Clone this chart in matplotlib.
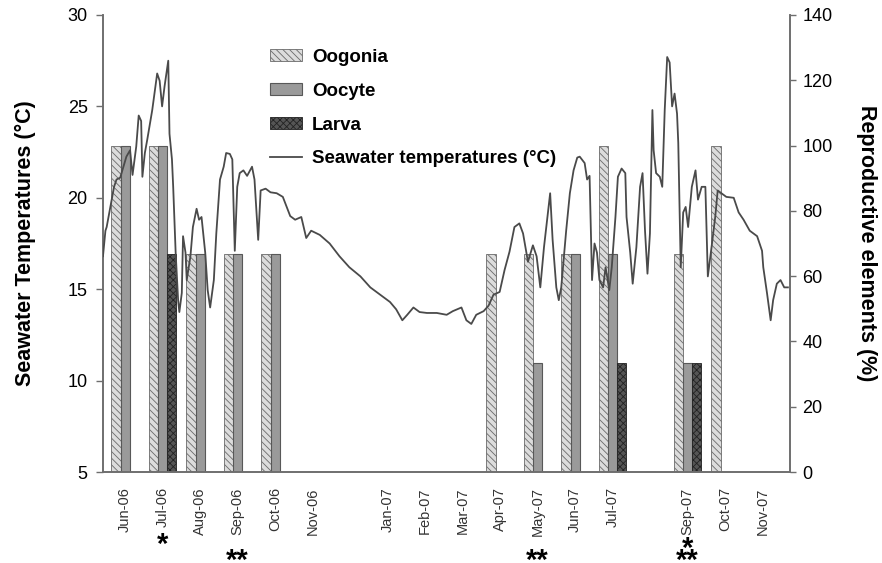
import numpy as np
import matplotlib.pyplot as plt
from matplotlib.patches import Patch
from matplotlib.lines import Line2D
from matplotlib.transforms import blended_transform_factory

plt.rcParams['font.family'] = ['Liberation Sans', 'DejaVu Sans']
plt.rcParams['hatch.linewidth'] = 0.6


""" data """

# monthly slots, '' = month without sampling label
months = ["Jun-06", "Jul-06", "Aug-06", "Sep-06", "Oct-06", "Nov-06", "",
          "Jan-07", "Feb-07", "Mar-07", "Apr-07", "May-07", "Jun-07",
          "Jul-07", "", "Sep-07", "Oct-07", "Nov-07"]

oogonia = [100, 100, 66.7, 66.7, 66.7, 0, 0, 0, 0, 0,
           66.7, 66.7, 66.7, 100, 0, 66.7, 100, 0]
oocyte = [100, 100, 66.7, 66.7, 66.7, 0, 0, 0, 0, 0,
          0, 33.3, 66.7, 66.7, 0, 33.3, 0, 0]
larva = [0, 66.7, 0, 0, 0, 0, 0, 0, 0, 0,
         0, 0, 0, 33.3, 0, 33.3, 0, 0]

# asterisks under the month labels (single / double)
stars_single = ["Jul-06", "Sep-07"]
stars_double = ["Sep-06", "May-07", "Sep-07"]

# seawater temperature record: day since 2006-05-28, temperature (deg C)
temp_day = [0, 2, 3, 6, 9, 11, 14, 19, 22, 24, 27, 29, 31, 32, 34, 36, 40,
            44, 46, 48, 50, 53, 54, 56, 57, 59, 61, 62, 64, 65, 67, 68, 71,
            73, 76, 78, 80, 83, 85, 87, 90, 92, 95, 98, 100, 103, 105, 107,
            109, 111, 114, 117, 121, 123, 126, 128, 132, 136, 141, 146, 152,
            156, 161, 165, 169, 176, 184, 192, 200, 209, 217, 225, 233, 238,
            243, 247, 252, 257, 263, 271, 279, 284, 291, 295, 299, 303, 309,
            313, 317, 322, 326, 330, 334, 338, 341, 345, 349, 352, 355, 358,
            363, 365, 368, 370, 372, 376, 379, 382, 385, 387, 391, 393, 395,
            397, 399, 401, 403, 406, 408, 411, 413, 416, 418, 421, 424, 425,
            428, 430, 433, 436, 438, 440, 442, 444, 446, 447, 449, 452, 454,
            456, 458, 460, 462, 464, 466, 467, 469, 471, 473, 475, 478, 481,
            483, 486, 489, 491, 494, 497, 499, 502, 506, 512, 516, 520, 525,
            531, 535, 536, 539, 542, 544, 547, 550, 553, 556]
temp_val = [16.8, 18.2, 18.4, 19.5, 20.6, 21.0, 21.1, 22.25, 22.6, 21.25,
            22.8, 24.5, 24.2, 21.15, 22.45, 23.2, 24.8, 26.8, 26.4, 25.0,
            26.1, 27.5, 23.5, 22.1, 20.6, 17.0, 14.4, 13.75, 14.8, 17.9, 17.0,
            15.5, 16.8, 18.4, 19.4, 18.8, 18.95, 17.0, 14.95, 14.0, 15.5,
            18.05, 21.0, 21.7, 22.45, 22.4, 22.1, 17.1, 20.6, 21.35, 21.5,
            21.2, 21.7, 21.0, 17.7, 20.4, 20.5, 20.3, 20.25, 20.05, 19.0,
            18.8, 18.95, 17.8, 18.2, 17.97, 17.5, 16.8, 16.2, 15.7, 15.1,
            14.7, 14.3, 13.9, 13.3, 13.6, 14.0, 13.75, 13.7, 13.7, 13.6, 13.8,
            14.0, 13.3, 13.1, 13.6, 13.8, 14.1, 14.7, 14.85, 16.05, 17.05,
            18.4, 18.6, 18.05, 16.5, 17.4, 16.8, 15.1, 17.3, 20.25, 17.7,
            15.1, 14.4, 15.1, 18.2, 20.25, 21.5, 22.2, 22.25, 21.9, 21.0,
            21.2, 15.5, 17.5, 17.0, 15.5, 15.1, 16.2, 14.95, 16.2, 18.95,
            21.15, 21.6, 21.35, 18.95, 17.0, 15.3, 17.3, 20.6, 21.35, 18.2,
            15.85, 18.05, 24.8, 22.6, 21.35, 21.15, 20.6, 24.8, 27.7, 27.4,
            25.0, 25.7, 24.6, 23.0, 16.2, 19.2, 19.5, 18.4, 20.6, 21.5, 19.9,
            20.6, 20.6, 15.7, 17.3, 18.95, 20.4, 20.25, 20.05, 20.0, 19.2,
            18.8, 18.2, 17.9, 17.1, 16.2, 14.8, 13.3, 14.4, 15.3, 15.5, 15.1,
            15.1]

# first labelled slot (Jun-06) sits at mid June = day 18 of the record
day_offset = 18
days_per_month = 30.44


""" plot """

fig = plt.figure(figsize=(8.82, 5.63), dpi=100)
ax_bar = fig.add_axes([0.1168, 0.1616, 0.7789, 0.8118])
ax_t = ax_bar.twinx()

grey = "#6e6e6e"
x = np.arange(len(months))
w = 0.245

oog_style = dict(facecolor="#dcdcdc", edgecolor="#6a6a6a",
                 hatch="\\\\\\\\\\", linewidth=0.6)
ooc_style = dict(facecolor="#9a9a9a", edgecolor="#585858", linewidth=0.8)
lar_style = dict(facecolor="#555555", edgecolor="#222222",
                 hatch="xxxxx", linewidth=0.6)

ax_t.bar(x - w, oogonia, w, zorder=2, **oog_style)
ax_t.bar(x, oocyte, w, zorder=2, **ooc_style)
ax_t.bar(x + w, larva, w, zorder=2, **lar_style)

# temperature line on the left axis (drawn over bars)
tx = (np.array(temp_day) - day_offset) / days_per_month
ax_bar.plot(tx, temp_val, color="#4a4a4a", linewidth=1.3, zorder=5)
ax_bar.set_zorder(ax_t.get_zorder() + 1)
ax_bar.patch.set_visible(False)

ax_bar.set_xlim(-0.59, 17.73)
ax_bar.set_ylim(5, 30)
ax_t.set_ylim(0, 140)
ax_bar.set_yticks(np.arange(5, 31, 5))
ax_t.set_yticks(np.arange(0, 141, 20))

ax_bar.set_xticks(x)
ax_bar.set_xticklabels(months, rotation=90, fontsize=10.5, color="#333333")
ax_bar.tick_params(axis="x", length=0, pad=11)
ax_bar.tick_params(axis="y", labelsize=13, length=5, width=1, color=grey,
                   pad=6)
ax_t.tick_params(axis="y", labelsize=13, length=4, width=1, color=grey,
                 pad=5)

for axx in (ax_bar, ax_t):
    axx.spines["top"].set_visible(False)
    for s in ("left", "right", "bottom"):
        axx.spines[s].set_color(grey)
        axx.spines[s].set_linewidth(1.2)

ax_bar.set_ylabel("Seawater Temperatures (\u00b0C)", fontsize=15.5,
                  fontweight="bold", labelpad=23)
ax_t.set_ylabel("Reproductive elements (%)", fontsize=15.5,
                fontweight="bold", rotation=270, labelpad=32)

# asterisks below the month labels
trans = blended_transform_factory(ax_bar.transData, fig.transFigure)
for m in stars_single:
    yy = 0.011 if m in stars_double else 0.018
    ax_bar.text(months.index(m), yy, "*", transform=trans, ha="center",
                va="baseline", fontsize=21, fontweight="bold")
for m in stars_double:
    ax_bar.text(months.index(m), -0.0104, "**", transform=trans,
                ha="center", va="baseline", fontsize=21, fontweight="bold")

handles = [Patch(**oog_style), Patch(**ooc_style), Patch(**lar_style),
           Line2D([], [], color="#4a4a4a", linewidth=1.3)]
labels = ["Oogonia", "Oocyte", "Larva", "Seawater temperatures (\u00b0C)"]
leg = ax_bar.legend(handles, labels, loc="upper left",
                    bbox_to_anchor=(0.218, 0.963), frameon=False,
                    prop={"weight": "bold", "size": 13.5},
                    handlelength=1.7, handleheight=0.65, labelspacing=0.9,
                    handletextpad=0.55)

plt.savefig("out.png", dpi=100)
